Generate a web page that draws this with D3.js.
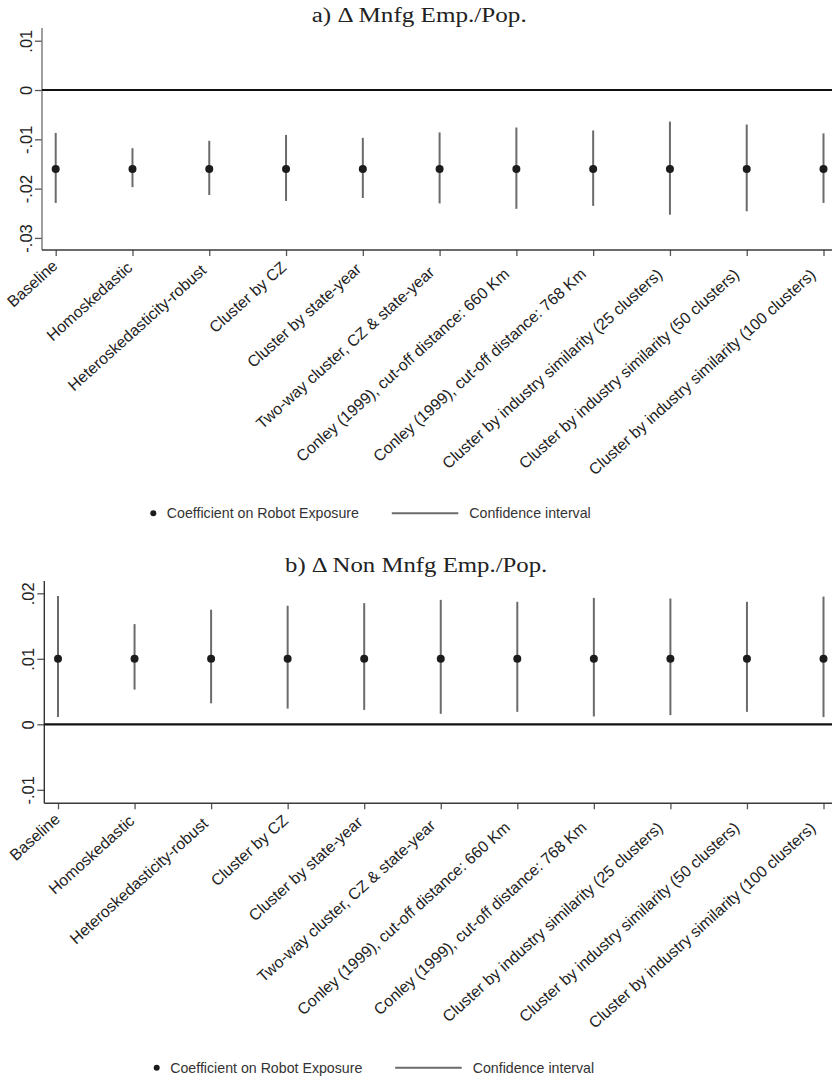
<!DOCTYPE html>
<html><head><meta charset="utf-8">
<script src="https://cdn.jsdelivr.net/npm/d3@7"></script>
<style>body{margin:0;background:#fff}</style>
</head><body>
<script>
const categories = ["Baseline","Homoskedastic","Heteroskedasticity-robust","Cluster by CZ","Cluster by state-year","Two-way cluster, CZ & state-year","Conley (1999), cut-off distance: 660 Km","Conley (1999), cut-off distance: 768 Km","Cluster by industry similarity (25 clusters)","Cluster by industry similarity (50 clusters)","Cluster by industry similarity (100 clusters)"];
const coefA = [-0.016,-0.016,-0.016,-0.016,-0.016,-0.016,-0.016,-0.016,-0.016,-0.016,-0.016];
const loA = [-0.0229,-0.0197,-0.0213,-0.0225,-0.0219,-0.0230,-0.0241,-0.0235,-0.0253,-0.0246,-0.0229];
const hiA = [-0.0087,-0.0118,-0.0103,-0.0091,-0.0097,-0.0086,-0.0076,-0.0082,-0.0064,-0.0070,-0.0088];
const coefB = [0.01,0.01,0.01,0.01,0.01,0.01,0.01,0.01,0.01,0.01,0.01];
const loB = [0.0011,0.0053,0.0032,0.0024,0.0022,0.0016,0.0019,0.0012,0.0014,0.0019,0.0011];
const hiB = [0.0196,0.0153,0.0175,0.0181,0.0185,0.0190,0.0187,0.0193,0.0192,0.0187,0.0195];
const ticksA = [0.01,0,-0.01,-0.02,-0.03];
const tickLabelsA = [".01","0","-.01","-.02","-.03"];
const ticksB = [0.02,0.01,0,-0.01];
const tickLabelsB = [".02",".01","0","-.01"];
const titleA = "a) \u0394 Mnfg Emp./Pop.";
const titleB = "b) \u0394 Non Mnfg Emp./Pop.";
const legendLabels = ["Coefficient on Robot Exposure","Confidence interval"];

const W = 832, H = 1088;
const svg = d3.select("body").append("svg").attr("width",W).attr("height",H);
const sans = "'Liberation Sans', Arial, sans-serif";
const serif = "'Liberation Serif', 'Times New Roman', serif";
const ciColor = "#6b6b6b", dotColor = "#1c1c1c", axisColor = "#3a3a3a";

function panel(cfg){
  const g = svg.append("g");
  const x = d3.scalePoint().domain(categories).range([cfg.left+13.7, cfg.right-8.5]);
  const y = d3.scaleLinear().domain(cfg.domain).range([cfg.bottom, cfg.top]);
  // title
  g.append("text").attr("x",cfg.titleX0).attr("y",cfg.titleY)
    .attr("font-family",serif).attr("font-size",20).attr("fill","#222")
    .attr("textLength",cfg.titleW).attr("lengthAdjust","spacingAndGlyphs")
    .text(cfg.title);
  // y axis
  const ya = d3.axisLeft(y).tickValues(cfg.ticks).tickSize(7)
    .tickFormat((d,i)=>cfg.tickLabels[i]);
  const yg = g.append("g").attr("transform",`translate(${cfg.left},0)`).call(ya);
  yg.select(".domain").remove();
  g.append("line").attr("x1",cfg.left).attr("x2",cfg.left).attr("y1",cfg.top).attr("y2",cfg.bottom)
    .attr("stroke",cfg.yAxisColor).attr("stroke-width",1.4);
  yg.selectAll(".tick line").attr("stroke","#555").attr("stroke-width",1.3);
  yg.selectAll(".tick text").attr("font-family",sans).attr("font-size",16.5).attr("fill","#222")
    .attr("x",0).attr("dy",0).attr("text-anchor","middle")
    .attr("transform","translate(-10,0) rotate(-90)");
  // x axis
  const xa = d3.axisBottom(x).tickSize(6).tickFormat(d=>d);
  const xg = g.append("g").attr("transform",`translate(0,${cfg.bottom})`).call(xa);
  xg.select(".domain").remove();
  g.append("line").attr("x1",cfg.left).attr("x2",cfg.right).attr("y1",cfg.bottom).attr("y2",cfg.bottom)
    .attr("stroke",axisColor).attr("stroke-width",1.4);
  xg.selectAll(".tick line").attr("stroke","#555").attr("stroke-width",1.3);
  xg.selectAll(".tick text").attr("font-family",sans).attr("font-size",16.8).attr("fill","#222")
    .attr("dy",0).attr("y",0)
    .each(function(){
      const t = d3.select(this);
      const L = this.getComputedTextLength();
      t.attr("text-anchor","start").attr("x",-L).attr("font-size",15.9);
    })
    .attr("transform","translate(5,15) rotate(-42)");
  // zero line
  g.append("line").attr("x1",cfg.left).attr("x2",cfg.right).attr("y1",y(0)).attr("y2",y(0))
    .attr("stroke","#111").attr("stroke-width",2.2);
  // CIs
  g.selectAll("line.ci").data(categories).enter().append("line").attr("class","ci")
    .attr("x1",d=>x(d)).attr("x2",d=>x(d))
    .attr("y1",(d,i)=>y(cfg.lo[i])).attr("y2",(d,i)=>y(cfg.hi[i]))
    .attr("stroke",ciColor).attr("stroke-width",2);
  g.selectAll("circle.pt").data(categories).enter().append("circle").attr("class","pt")
    .attr("cx",d=>x(d)).attr("cy",(d,i)=>y(cfg.coef[i])).attr("r",4).attr("fill",dotColor);
  // legend
  const ly = cfg.legendY;
  g.append("circle").attr("cx",cfg.legX).attr("cy",ly).attr("r",3).attr("fill",dotColor);
  g.append("text").attr("x",cfg.legX+13.5).attr("y",ly+5).attr("font-family",sans).attr("font-size",14.2)
    .attr("fill","#333").text(legendLabels[0]);
  g.append("line").attr("x1",cfg.legX+238.5).attr("x2",cfg.legX+305).attr("y1",ly).attr("y2",ly)
    .attr("stroke",ciColor).attr("stroke-width",2);
  g.append("text").attr("x",cfg.legX+316).attr("y",ly+5).attr("font-family",sans).attr("font-size",14.2)
    .attr("fill","#333").text(legendLabels[1]);
}

panel({left:42,right:832,top:28,bottom:250,domain:[-0.03245,0.01258],ticks:ticksA,tickLabels:tickLabelsA,
  coef:coefA,lo:loA,hi:hiA,title:titleA,titleX0:311.7,titleW:215,titleY:21.7,legendY:513.3,legX:153.3,yAxisColor:"#777"});
panel({left:44.3,right:832,top:581,bottom:803.3,domain:[-0.01206,0.02188],ticks:ticksB,tickLabels:tickLabelsB,
  coef:coefB,lo:loB,hi:hiB,title:titleB,titleX0:285,titleW:262.3,titleY:571.7,legendY:1067.7,legX:156.7,yAxisColor:"#333"});
</script>
</body></html>
